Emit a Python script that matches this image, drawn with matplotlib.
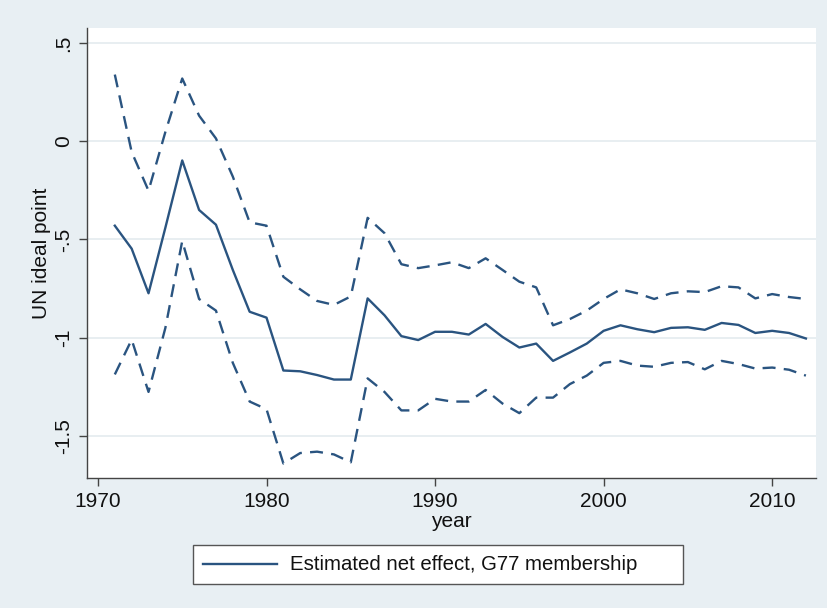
import matplotlib
matplotlib.use("Agg")
import matplotlib.pyplot as plt
from matplotlib.patches import Rectangle
from matplotlib.lines import Line2D

plt.rcParams['font.family'] = ['Liberation Sans', 'DejaVu Sans']

years = list(range(1971, 2013))
estimate = [-0.43, -0.547, -0.774, -0.44, -0.098, -0.35, -0.425, -0.655, -0.868, -0.898,
            -1.167, -1.171, -1.19, -1.213, -1.213, -0.80, -0.886, -0.992, -1.012, -0.97,
            -0.97, -0.984, -0.93, -0.996, -1.05, -1.03, -1.118, -1.075, -1.03, -0.965,
            -0.937, -0.957, -0.972, -0.95, -0.947, -0.96, -0.925, -0.935, -0.976, -0.965,
            -0.976, -1.004]
upper = [0.339, -0.055, -0.252, 0.047, 0.319, 0.13, 0.014, -0.18, -0.413, -0.43,
         -0.69, -0.754, -0.813, -0.833, -0.79, -0.39, -0.468, -0.626, -0.646, -0.632,
         -0.616, -0.646, -0.596, -0.655, -0.715, -0.744, -0.937, -0.905, -0.862, -0.803,
         -0.754, -0.774, -0.803, -0.774, -0.764, -0.768, -0.738, -0.744, -0.80, -0.778,
         -0.793, -0.803]
lower = [-1.187, -1.01, -1.276, -0.95, -0.508, -0.803, -0.862, -1.128, -1.325, -1.364,
         -1.64, -1.587, -1.58, -1.594, -1.634, -1.207, -1.276, -1.37, -1.37, -1.311,
         -1.325, -1.325, -1.266, -1.335, -1.384, -1.305, -1.305, -1.236, -1.193, -1.128,
         -1.118, -1.142, -1.148, -1.128, -1.124, -1.161, -1.118, -1.134, -1.157, -1.152,
         -1.163, -1.193]
xticks = [1970, 1980, 1990, 2000, 2010]
yticks = [0.5, 0, -0.5, -1, -1.5]
ytick_labels = ['.5', '0', '-.5', '-1', '-1.5']
legend_label = 'Estimated net effect, G77 membership'

W, H = 827, 608
bg = '#e8eff3'
col = '#2a5480'

fig = plt.figure(figsize=(W / 100, H / 100), dpi=100, facecolor=bg)
ax = fig.add_axes([87 / W, 1 - 478 / H, (816 - 87) / W, (478 - 28) / H])
ax.set_facecolor('white')

ax.plot(years, estimate, color=col, lw=1.7, solid_joinstyle='round')
ax.plot(years, upper, color=col, lw=1.7, dashes=(5.5, 3.5))
ax.plot(years, lower, color=col, lw=1.7, dashes=(5.5, 3.5))

ax.set_xlim(1969.35, 2012.6)
ax.set_ylim(-1.714, 0.576)
ax.set_xticks(xticks)
ax.set_yticks(yticks)
ax.set_yticklabels(ytick_labels, rotation=90, va='center')
ax.grid(axis='y', color='#e4ebef', lw=1.2)
ax.set_axisbelow(True)
for s in ['top', 'right']:
    ax.spines[s].set_visible(False)
for s in ['left', 'bottom']:
    ax.spines[s].set_color('#444444')
    ax.spines[s].set_linewidth(1.0)
ax.tick_params(axis='both', length=6, width=1.0, color='#444444', labelsize=15,
               labelcolor='#111111', pad=4)
ax.set_xlabel('year', fontsize=15, color='#111111', labelpad=1)
ax.set_ylabel('UN ideal point', fontsize=15, color='#111111', labelpad=2)

# legend box
fig.patches.append(Rectangle((193 / W, 1 - 584 / H), (683 - 193) / W, (584 - 545) / H,
                             transform=fig.transFigure, facecolor='white',
                             edgecolor='#555555', lw=1.0))
fig.lines.append(Line2D([203 / W, 277 / W], [1 - 564 / H, 1 - 564 / H],
                        transform=fig.transFigure, color=col, lw=1.7))
fig.text(290 / W, 1 - 565 / H, legend_label, fontsize=14.7, color='#111111',
         va='center', ha='left')

fig.savefig('out.png', dpi=100, facecolor=bg)
